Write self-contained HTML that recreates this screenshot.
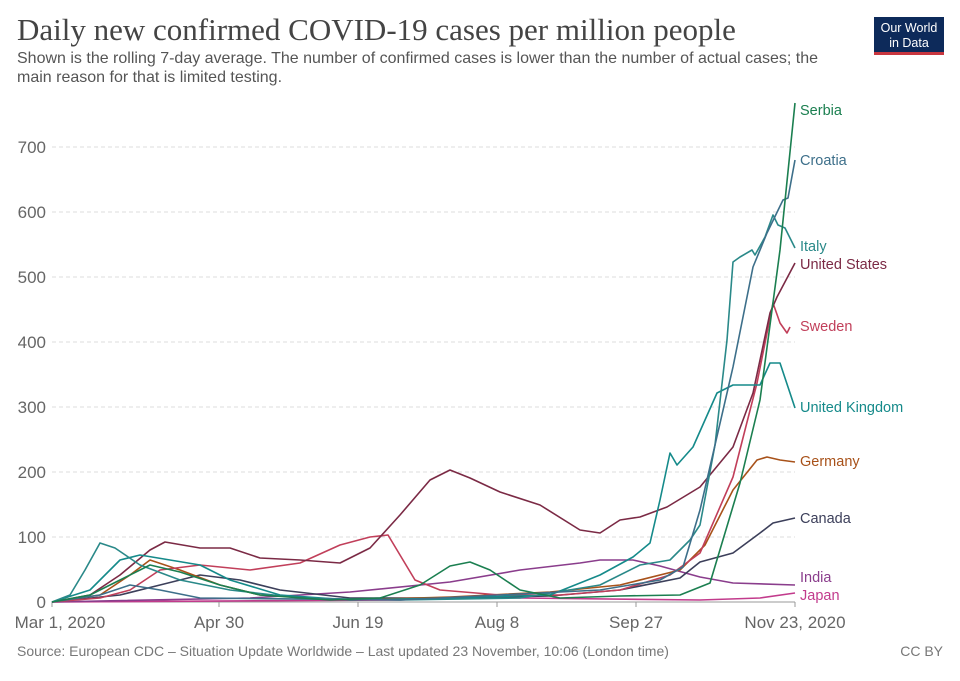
<!DOCTYPE html>
<html><head><style>
body{margin:0;background:#fff;}
svg text{font-family:"Liberation Sans",sans-serif;}
</style></head><body>
<svg width="960" height="676" xmlns="http://www.w3.org/2000/svg">
<rect width="960" height="676" fill="#fff"/>
<text x="17" y="40" style="font-family:'Liberation Serif',serif" font-size="31" fill="#444">Daily new confirmed COVID-19 cases per million people</text>
<text x="17" y="63" font-size="16" fill="#555">Shown is the rolling 7-day average. The number of confirmed cases is lower than the number of actual cases; the</text>
<text x="17" y="82" font-size="16" fill="#555">main reason for that is limited testing.</text>
<rect x="874" y="17" width="70" height="38" fill="#0d2a5a"/>
<rect x="874" y="52" width="70" height="3" fill="#c8363f"/>
<text x="909" y="32" font-size="12.5" fill="#fff" text-anchor="middle">Our World</text>
<text x="909" y="47" font-size="12.5" fill="#fff" text-anchor="middle">in Data</text>
<g stroke="#ddd" stroke-dasharray="4,3" stroke-width="1">
<line x1="52" x2="795" y1="537" y2="537"/><line x1="52" x2="795" y1="472" y2="472"/>
<line x1="52" x2="795" y1="407" y2="407"/><line x1="52" x2="795" y1="342" y2="342"/>
<line x1="52" x2="795" y1="277" y2="277"/><line x1="52" x2="795" y1="212" y2="212"/>
<line x1="52" x2="795" y1="147" y2="147"/>
</g>
<line x1="52" x2="795" y1="602" y2="602" stroke="#999"/>
<g stroke="#999"><line x1="52" x2="52" y1="602" y2="607"/><line x1="219" x2="219" y1="602" y2="607"/><line x1="358" x2="358" y1="602" y2="607"/><line x1="497" x2="497" y1="602" y2="607"/><line x1="636" x2="636" y1="602" y2="607"/><line x1="795" x2="795" y1="602" y2="607"/></g>
<g font-size="17" fill="#666" text-anchor="end">
<text x="46" y="608">0</text><text x="46" y="543">100</text><text x="46" y="478">200</text>
<text x="46" y="413">300</text><text x="46" y="348">400</text><text x="46" y="283">500</text>
<text x="46" y="218">600</text><text x="46" y="153">700</text>
</g>
<g font-size="17" fill="#666" text-anchor="middle">
<text x="60" y="628">Mar 1, 2020</text><text x="219" y="628">Apr 30</text><text x="358" y="628">Jun 19</text>
<text x="497" y="628">Aug 8</text><text x="636" y="628">Sep 27</text><text x="795" y="628">Nov 23, 2020</text>
</g>
<g fill="none" stroke-width="1.6" stroke-linejoin="round">
<polyline stroke="#c23b8c" points="52,602 400,600 470,597 520,598 700,600 760,598 795,593"/>
<polyline stroke="#8a3d8c" points="52,602 250,598 350,592 450,582 520,570 580,563 600,560 633,560 660,566 700,577 733,583 795,585"/>
<polyline stroke="#3c3f5a" points="52,602 120,595 160,585 200,575 240,580 280,590 350,598 450,598 550,596 620,590 680,578 700,562 733,553 760,533 773,523 795,518"/>
<polyline stroke="#a8521a" points="52,602 100,595 130,575 150,560 180,570 220,585 260,595 350,600 450,597 550,592 620,585 680,570 705,545 733,490 757,460 767,457 780,460 795,462"/>
<polyline stroke="#c13f5a" points="52,602 100,598 130,590 160,570 200,565 250,570 300,563 340,545 370,537 388,535 400,555 415,580 440,590 500,595 560,595 620,590 670,575 700,553 733,477 757,383 773,303 780,323 787,333 790,327"/>
<polyline stroke="#7b2a45" points="52,602 90,595 120,575 150,550 165,542 200,548 230,548 260,558 300,560 340,563 370,548 400,515 430,480 450,470 470,478 500,492 540,505 580,530 600,533 620,520 640,517 667,507 700,487 733,447 753,393 770,313 777,297 795,263"/>
<polyline stroke="#158a8a" points="52,602 90,590 120,560 140,555 170,560 200,565 230,580 280,595 350,600 450,598 550,595 600,575 633,557 650,543 660,500 670,453 677,465 693,447 717,393 733,385 760,385 770,363 780,363 795,408"/>
<polyline stroke="#2a8989" points="52,602 70,595 85,570 100,543 115,548 140,565 180,580 230,590 300,598 400,600 520,598 600,585 640,565 670,560 690,540 700,525 715,445 727,340 733,262 740,257 752,250 755,255 765,237 773,215 778,225 785,228 795,248"/>
<polyline stroke="#3d6f8a" points="52,602 100,595 130,585 160,590 200,598 400,600 500,595 600,590 660,580 683,567 700,510 733,367 753,267 767,233 783,200 788,198 795,160"/>
<polyline stroke="#1b7f50" points="52,602 90,595 120,580 150,565 180,572 220,585 260,595 330,600 380,598 420,585 450,566 470,562 490,570 520,590 560,598 620,596 680,595 710,583 740,483 760,400 780,250 795,103"/>
</g>
<g font-size="14.5">
<text x="800" y="115" fill="#1b7f50">Serbia</text>
<text x="800" y="165" fill="#3d6f8a">Croatia</text>
<text x="800" y="251" fill="#2a8989">Italy</text>
<text x="800" y="269" fill="#7b2a45">United States</text>
<text x="800" y="331" fill="#c13f5a">Sweden</text>
<text x="800" y="412" fill="#158a8a">United Kingdom</text>
<text x="800" y="466" fill="#a8521a">Germany</text>
<text x="800" y="523" fill="#3c3f5a">Canada</text>
<text x="800" y="582" fill="#8a3d8c">India</text>
<text x="800" y="600" fill="#c23b8c">Japan</text>
</g>
<text x="17" y="656" font-size="14" fill="#777">Source: European CDC – Situation Update Worldwide – Last updated 23 November, 10:06 (London time)</text>
<text x="943" y="656" font-size="14" fill="#777" text-anchor="end">CC BY</text>
</svg>
</body></html>
